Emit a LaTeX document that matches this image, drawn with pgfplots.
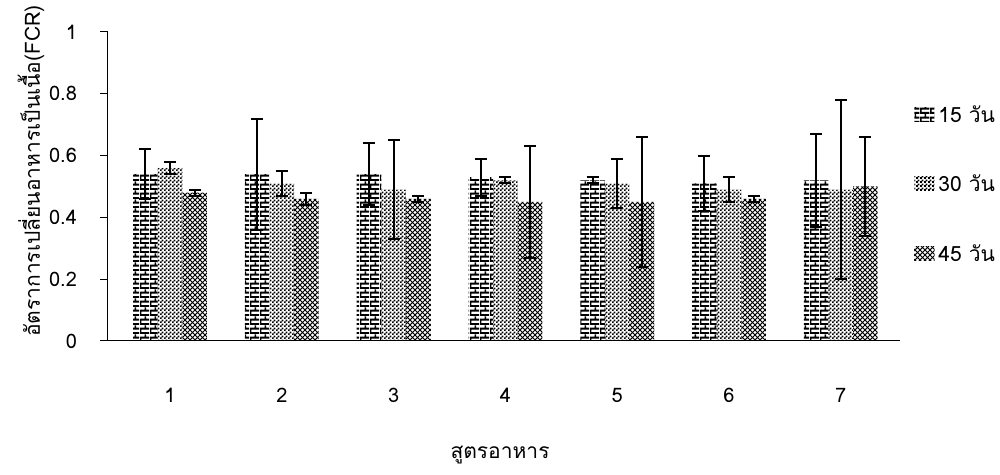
\documentclass[border=0pt]{standalone}
\usepackage{fontspec}
\setmainfont[Script=Thai]{Loma}
\usepackage{pgfplots}
\usepackage{pgfplotstable}
\pgfplotsset{compat=1.18}
\usetikzlibrary{patterns}

\pgfdeclarepatternformonly{smallbricks}{\pgfqpoint{0pt}{0pt}}{\pgfqpoint{5pt}{4.4pt}}{\pgfqpoint{5pt}{4.4pt}}{%
  \pgfpathrectangle{\pgfqpoint{0pt}{0pt}}{\pgfqpoint{5pt}{1pt}}%
  \pgfpathrectangle{\pgfqpoint{0pt}{2.2pt}}{\pgfqpoint{5pt}{1pt}}%
  \pgfpathrectangle{\pgfqpoint{0pt}{1pt}}{\pgfqpoint{0.8pt}{1.2pt}}%
  \pgfpathrectangle{\pgfqpoint{2.5pt}{3.2pt}}{\pgfqpoint{0.8pt}{1.2pt}}%
  \pgfusepath{fill}}
\pgfdeclarepatternformonly{finechecker}{\pgfqpoint{0pt}{0pt}}{\pgfqpoint{2pt}{2pt}}{\pgfqpoint{2pt}{2pt}}{%
  \pgfpathrectangle{\pgfqpoint{0pt}{0pt}}{\pgfqpoint{1.05pt}{1.05pt}}%
  \pgfpathrectangle{\pgfqpoint{1pt}{1pt}}{\pgfqpoint{1.05pt}{1.05pt}}%
  \pgfusepath{fill}}
\pgfdeclarepatternformonly{finecross}{\pgfqpoint{-0.5pt}{-0.5pt}}{\pgfqpoint{3pt}{3pt}}{\pgfqpoint{2.5pt}{2.5pt}}{%
  \pgfsetlinewidth{0.4pt}%
  \pgfpathmoveto{\pgfqpoint{-0.5pt}{-0.5pt}}\pgfpathlineto{\pgfqpoint{3pt}{3pt}}%
  \pgfpathmoveto{\pgfqpoint{-0.5pt}{3pt}}\pgfpathlineto{\pgfqpoint{3pt}{-0.5pt}}%
  \pgfusepath{stroke}}

\pgfplotstableread{
x a ae b be c ce
1 0.54 0.08 0.56 0.02 0.48 0.01
2 0.54 0.18 0.51 0.04 0.46 0.02
3 0.54 0.10 0.49 0.16 0.46 0.01
4 0.53 0.06 0.52 0.01 0.45 0.18
5 0.52 0.01 0.51 0.08 0.45 0.21
6 0.51 0.09 0.49 0.04 0.46 0.01
7 0.52 0.15 0.49 0.29 0.50 0.16
}\data

\begin{document}
\begin{tikzpicture}
\useasboundingbox (-54pt,-67pt) rectangle (446pt,170.5pt);
\begin{axis}[
  at={(0,0)}, anchor=south west,
  scale only axis,
  width=396pt, height=154.5pt,
  ybar=0pt, bar width=12.3pt,
  xmin=0.445, xmax=7.53,
  ymin=0, ymax=1,
  xtick=data,
  ytick={0,0.2,0.4,0.6,0.8,1},
  axis x line*=bottom, axis y line*=left,
  axis line style={-, black, line width=0.5pt},
  x tick style={draw=none},
  y tick style={black, line width=0.5pt},
  tick align=outside,
  major tick length=4pt,
  /pgf/number format/assume math mode=true,
  tick label style={font=\fontsize{10}{12}\selectfont},
  xticklabel style={yshift=-16pt},
  yticklabel style={xshift=-8pt},
  label style={font=\fontsize{10.5}{12}\selectfont},
  xlabel={สูตรอาหาร},
  xlabel style={at={(axis description cs:0.495,0)}, anchor=center, yshift=-57pt},
  ylabel={อัตราการเปลี่ยนอาหารเป็นเนื้อ(FCR)},
  ylabel style={at={(axis description cs:0,0.55)}, anchor=center, yshift=38.5pt},
  legend style={draw=none, fill=none, font=\fontsize{10.5}{12}\selectfont,
    at={(axis description cs:1,0.79)}, anchor=north west, xshift=4pt,
    row sep=21pt, legend cell align=left},
  legend image code/.code={\fill[#1, draw=none] (0pt,-3pt) rectangle (10pt,4pt);},
  error bars/error bar style={line width=1pt, black},
  error bars/error mark options={rotate=90, mark size=3pt, line width=1pt, black},
]
\addplot[pattern=smallbricks, pattern color=black, draw=none,
  error bars/.cd, y dir=both, y explicit]
  table[x=x, y=a, y error=ae] {\data};
\addplot[pattern=finechecker, pattern color=black, draw=none,
  error bars/.cd, y dir=both, y explicit]
  table[x=x, y=b, y error=be] {\data};
\addplot[pattern=finecross, pattern color=black, draw=none,
  error bars/.cd, y dir=both, y explicit]
  table[x=x, y=c, y error=ce] {\data};
\legend{15 วัน, 30 วัน, 45 วัน}
\end{axis}
\end{tikzpicture}
\end{document}
